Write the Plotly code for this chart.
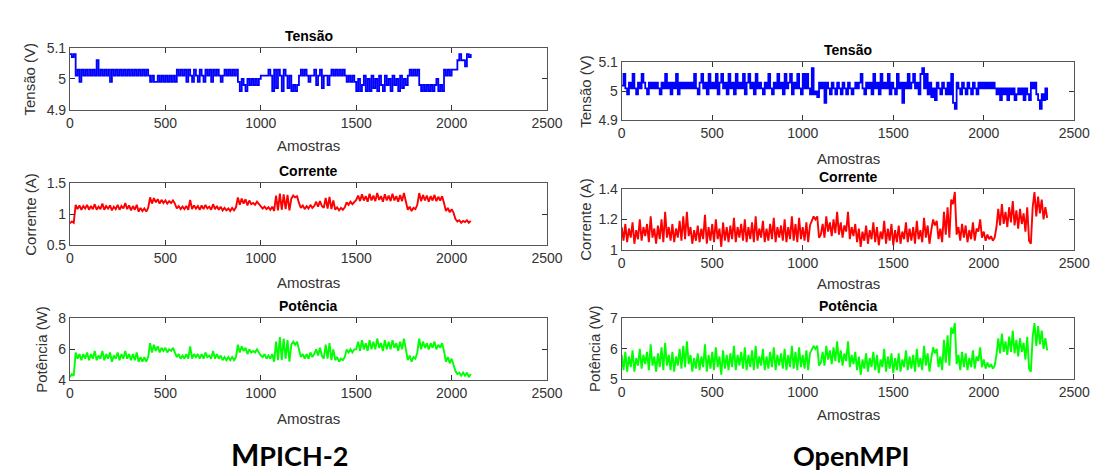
import plotly.graph_objects as go

W, H = 1099, 475

# ---------------- DATA (one value every 10 samples) ----------------
STEP = 10

mpich_tensao = [
    5.08, 5.07, 5.08, 5.01,
    5.03, 4.99, 5.03, 5.01, 5.03, 5.01, 5.03, 5.01, 5.03, 5.01, 5.06, 5.01, 5.03, 5.01, 5.03, 5.01,
    5.03, 4.99, 5.03, 5.01, 5.03, 5.01, 5.03, 5.01, 5.03, 5.01, 5.03, 5.01, 5.03, 5.01, 5.03, 5.01,
    5.03, 5.01, 5.03, 5.01, 5.03, 5.01,
    4.99, 5.01, 4.99, 4.99, 5.01, 4.99, 5.01, 4.99, 5.01, 4.99, 5.01, 4.99, 5.01, 4.99,
    5.03, 5.01, 5.03, 5.01, 5.03, 4.99, 5.03, 5.01, 4.99, 5.03, 5.01, 4.99, 5.03, 5.01, 4.99, 5.03,
    5.01, 5.03, 4.99, 5.03, 5.01, 5.03, 5.01, 4.99, 5.01, 5.03, 5.01, 5.03, 5.01, 5.03, 5.01, 5.03,
    4.99, 4.96, 5.00, 4.98, 4.96, 5.00, 4.98, 5.00, 4.98, 5.00, 4.98, 5.00, 5.01,
    5.01, 5.01, 5.01, 5.03, 5.01, 4.96, 5.03, 4.97, 5.03, 5.01, 4.96, 5.03, 5.01, 4.97, 5.01, 4.96,
    4.98, 4.96, 4.98,
    5.01, 5.03, 5.01, 5.03, 5.01, 4.99, 5.01, 5.01, 5.03, 4.98, 5.01, 5.03, 4.97, 5.01, 5.01, 4.98,
    5.01, 5.03, 5.01, 5.03, 5.01, 5.03, 5.01, 5.03, 5.01,
    4.99, 5.01, 4.99, 5.01, 4.99,
    4.96, 5.00, 4.96, 4.98, 5.01, 4.96, 5.00, 4.96, 5.01, 4.97, 5.00, 4.96, 5.01, 4.98, 4.96, 5.01,
    4.98, 5.00, 4.96, 5.01, 4.98, 5.00, 4.96, 5.01, 4.97, 5.00, 4.98,
    5.01, 5.03, 5.01, 5.03, 5.01, 5.03,
    4.98, 4.96, 4.98, 4.96, 4.98, 4.96, 4.98, 4.96, 4.98, 5.00, 4.96, 4.98, 4.96,
    5.03, 5.01, 5.03, 5.01, 5.03, 5.03, 5.03, 5.06, 5.08, 5.06, 5.06, 5.04, 5.08, 5.07, 5.08,
]

mpich_corrente = [
    0.85, 0.88, 0.86, 1.15,
    1.08, 1.14, 1.07, 1.13, 1.09, 1.15, 1.07, 1.13, 1.08, 1.16, 1.07, 1.12, 1.08, 1.17, 1.07, 1.13,
    1.09, 1.14, 1.06, 1.12, 1.08, 1.15, 1.07, 1.13, 1.09, 1.18, 1.08, 1.14, 1.06, 1.13, 1.07, 1.15,
    1.04, 1.10, 1.05, 1.09, 1.04, 1.10,
    1.27, 1.17, 1.26, 1.19, 1.24, 1.17, 1.23, 1.18, 1.22, 1.17, 1.21, 1.18, 1.22, 1.17,
    1.09, 1.13, 1.08, 1.12, 1.08, 1.13, 1.07, 1.23, 1.08, 1.14, 1.09, 1.13, 1.07, 1.14, 1.08, 1.15,
    1.09, 1.12, 1.07, 1.16, 1.08, 1.13, 1.07, 1.12, 1.06, 1.10, 1.06, 1.09, 1.05, 1.10, 1.06, 1.11,
    1.27, 1.15, 1.25, 1.17, 1.24, 1.14, 1.22, 1.16, 1.18, 1.15, 1.20, 1.16, 1.12,
    1.09, 1.12, 1.08, 1.11, 1.07, 1.12, 1.05, 1.30, 1.06, 1.33, 1.07, 1.32, 1.08, 1.31, 1.06, 1.25,
    1.30, 1.27, 1.29,
    1.18, 1.10, 1.14, 1.08, 1.13, 1.09, 1.15, 1.10, 1.13, 1.20, 1.12, 1.21, 1.13, 1.10, 1.26, 1.09,
    1.28, 1.08, 1.22, 1.07, 1.11, 1.06, 1.10, 1.07, 1.11,
    1.19, 1.15, 1.20, 1.16, 1.19,
    1.23, 1.30, 1.21, 1.32, 1.22, 1.29, 1.20, 1.33, 1.22, 1.30, 1.21, 1.34, 1.23, 1.29, 1.20, 1.32,
    1.22, 1.30, 1.21, 1.33, 1.22, 1.29, 1.20, 1.31, 1.21, 1.34, 1.22,
    1.07, 1.12, 1.05, 1.10, 1.08, 1.15,
    1.34, 1.21, 1.31, 1.22, 1.30, 1.20, 1.29, 1.22, 1.31, 1.21, 1.28, 1.22, 1.29,
    1.18, 1.05, 1.10, 1.03, 1.08, 1.02, 0.92, 0.88, 0.90, 0.86, 0.89, 0.87, 0.90, 0.86, 0.89,
]

mpich_potencia = [
    4.2, 4.4, 4.3, 5.8,
    5.4, 5.7, 5.3, 5.7, 5.4, 5.8, 5.3, 5.7, 5.4, 5.9, 5.3, 5.6, 5.4, 5.9, 5.3, 5.7,
    5.4, 5.8, 5.2, 5.6, 5.4, 5.8, 5.3, 5.7, 5.4, 5.9, 5.4, 5.7, 5.3, 5.7, 5.3, 5.8,
    5.2, 5.5, 5.2, 5.5, 5.2, 5.5,
    6.4, 5.8, 6.3, 5.9, 6.2, 5.8, 6.1, 5.9, 6.1, 5.8, 6.0, 5.9, 6.1, 5.8,
    5.5, 5.7, 5.4, 5.6, 5.4, 5.7, 5.4, 6.2, 5.4, 5.7, 5.5, 5.7, 5.4, 5.7, 5.4, 5.8,
    5.5, 5.6, 5.4, 5.9, 5.4, 5.7, 5.4, 5.6, 5.3, 5.5, 5.3, 5.5, 5.3, 5.5, 5.3, 5.5,
    6.3, 5.8, 6.2, 5.9, 6.1, 5.7, 6.0, 5.8, 5.9, 5.8, 6.0, 5.8, 5.6,
    5.5, 5.7, 5.4, 5.6, 5.4, 5.7, 5.2, 6.5, 5.3, 6.8, 5.3, 6.7, 5.4, 6.6, 5.2, 6.3,
    6.5, 6.3, 6.5,
    5.9, 5.5, 5.7, 5.4, 5.7, 5.4, 5.8, 5.5, 5.7, 6.0, 5.6, 6.1, 5.6, 5.4, 6.3, 5.4,
    6.4, 5.3, 6.0, 5.3, 5.5, 5.2, 5.4, 5.3, 5.5,
    6.0, 5.8, 6.0, 5.8, 6.0,
    6.0, 6.5, 5.9, 6.6, 6.0, 6.4, 5.9, 6.6, 6.0, 6.5, 6.0, 6.7, 6.1, 6.4, 5.9, 6.6,
    6.0, 6.5, 6.0, 6.6, 6.1, 6.4, 5.9, 6.5, 6.0, 6.7, 6.0,
    5.3, 5.6, 5.2, 5.5, 5.4, 5.8,
    6.7, 6.0, 6.5, 6.1, 6.4, 6.0, 6.4, 6.1, 6.5, 6.0, 6.3, 6.1, 6.4,
    5.9, 5.2, 5.5, 5.1, 5.4, 5.0, 4.6, 4.4, 4.5, 4.3, 4.5, 4.3, 4.5, 4.2, 4.4,
]

openmpi_tensao = [
    5.02, 5.06, 5.01, 4.99, 5.03, 5.01, 5.06, 5.01, 4.99, 5.03,
    5.01, 5.06, 5.03, 5.01, 4.99, 5.03, 5.01, 5.03, 5.01, 5.03,
    5.01, 4.99, 5.03, 5.01, 5.06, 5.01, 5.03, 4.99, 5.03, 5.01,
    5.06, 4.99, 5.03, 5.01, 5.03, 5.01, 5.03, 5.01, 5.03, 5.01,
    5.06, 5.01, 4.99, 5.03, 5.06, 5.01, 5.03, 4.99, 5.06, 5.01,
    5.03, 5.01, 5.06, 4.99, 5.03, 5.06, 5.01, 5.03, 4.99, 5.06,
    5.01, 5.03, 4.99, 5.06, 5.01, 5.03, 5.01, 5.06, 4.99, 5.03,
    5.06, 5.01, 5.03, 4.99, 5.06, 5.01, 5.03, 5.01, 4.99, 5.03,
    5.01, 5.06, 5.01, 4.99, 5.03, 5.01, 5.06, 5.01, 5.03, 4.99,
    5.06, 5.01, 5.03, 5.06, 4.99, 5.03, 5.01, 5.06, 5.01, 4.99,
    5.06, 5.01, 5.06, 5.01, 4.99, 5.08, 4.99, 5.00, 4.98, 5.03,
    5.01, 5.03, 4.96, 5.03, 5.01, 4.99, 5.03, 5.01, 4.99, 5.03,
    5.01, 4.99, 5.03, 5.01, 4.99, 5.03, 5.01, 4.99, 5.01, 5.03,
    5.01, 5.03, 5.06, 5.01, 4.99, 5.03, 5.01, 5.03, 4.99, 5.06,
    5.01, 5.03, 4.99, 5.06, 5.01, 5.03, 5.01, 5.06, 4.99, 5.03,
    5.01, 4.99, 5.06, 5.01, 5.03, 4.96, 5.03, 5.01, 5.06, 5.01,
    5.03, 5.06, 5.01, 5.03, 4.99, 5.06, 5.08, 5.01, 5.06, 4.99,
    5.03, 4.98, 5.01, 4.97, 5.03, 5.01, 4.99, 5.03, 5.01, 4.99,
    5.03, 4.99, 5.06, 4.96, 4.94, 5.03, 5.01, 4.99, 5.03, 5.01,
    4.99, 5.03, 5.01, 4.99, 5.03, 5.01, 4.99, 5.03, 5.01, 5.03,
    5.01, 5.03, 5.01, 5.03, 5.01, 5.03, 5.01, 4.99, 5.01, 4.97,
    5.01, 4.99, 5.01, 4.97, 5.01, 4.99, 5.01, 4.97, 4.99, 5.01,
    4.99, 5.01, 4.97, 5.01, 4.99, 4.97, 5.03, 5.01, 5.03, 4.99,
    4.97, 4.94, 4.99, 4.97, 5.01, 4.97,
]

openmpi_corrente = [
    1.15, 1.06, 1.17, 1.05, 1.14, 1.08, 1.18, 1.04, 1.13, 1.07,
    1.20, 1.06, 1.15, 1.09, 1.17, 1.05, 1.22, 1.08, 1.14, 1.04,
    1.16, 1.07, 1.20, 1.05, 1.25, 1.08, 1.15, 1.06, 1.17, 1.05,
    1.14, 1.08, 1.19, 1.06, 1.22, 1.07, 1.25, 1.09, 1.15, 1.04,
    1.13, 1.06, 1.16, 1.05, 1.14, 1.07, 1.23, 1.04, 1.15, 1.06,
    1.17, 1.05, 1.20, 1.07, 1.14, 1.02, 1.18, 1.06, 1.15, 1.05,
    1.16, 1.07, 1.21, 1.05, 1.15, 1.08, 1.17, 1.06, 1.20, 1.05,
    1.15, 1.07, 1.18, 1.05, 1.22, 1.06, 1.14, 1.08, 1.19, 1.05,
    1.14, 1.06, 1.17, 1.07, 1.21, 1.05, 1.15, 1.08, 1.16, 1.06,
    1.20, 1.05, 1.15, 1.07, 1.22, 1.06, 1.17, 1.05, 1.21, 1.07,
    1.15, 1.06, 1.18, 1.05, 1.16, 1.19, 1.22, 1.20, 1.22, 1.08,
    1.10, 1.17, 1.08, 1.22, 1.12, 1.18, 1.09, 1.20, 1.11, 1.25,
    1.10, 1.18, 1.08, 1.16, 1.12, 1.25, 1.07, 1.15, 1.09, 1.17,
    1.05, 1.14, 1.02, 1.12, 1.06, 1.16, 1.04, 1.13, 1.07, 1.18,
    1.05, 1.15, 1.03, 1.12, 1.07, 1.19, 1.04, 1.14, 1.06, 1.17,
    1.03, 1.13, 1.05, 1.16, 1.04, 1.12, 1.07, 1.18, 1.05, 1.14,
    1.06, 1.15, 1.04, 1.19, 1.07, 1.13, 1.05, 1.21, 1.08, 1.16,
    1.04, 1.13, 1.20, 1.16, 1.19, 1.07, 1.14, 1.05, 1.25, 1.10,
    1.28, 1.08, 1.33, 1.30, 1.38, 1.10, 1.15, 1.06, 1.17, 1.08,
    1.16, 1.05, 1.13, 1.07, 1.18, 1.06, 1.14, 1.12, 1.20, 1.08,
    1.12, 1.06, 1.10, 1.07, 1.09, 1.06, 1.08, 1.15, 1.27, 1.16,
    1.30, 1.17, 1.25, 1.15, 1.28, 1.18, 1.32, 1.16, 1.26, 1.14,
    1.27, 1.17, 1.24, 1.12, 1.28, 1.06, 1.04, 1.28, 1.38, 1.22,
    1.35, 1.24, 1.33, 1.20, 1.28, 1.21,
]

openmpi_potencia = [
    5.8, 5.3, 5.9, 5.25, 5.75, 5.4, 5.95, 5.25, 5.7, 5.45,
    6.0, 5.35, 5.8, 5.5, 5.9, 5.3, 6.15, 5.45, 5.75, 5.25,
    5.85, 5.4, 6.05, 5.3, 6.2, 5.45, 5.8, 5.3, 5.9, 5.25,
    5.75, 5.45, 6.0, 5.35, 6.1, 5.4, 6.25, 5.5, 5.8, 5.25,
    5.7, 5.35, 5.85, 5.3, 5.75, 5.4, 6.15, 5.25, 5.8, 5.35,
    5.9, 5.3, 6.05, 5.4, 5.75, 5.15, 5.95, 5.35, 5.8, 5.3,
    5.85, 5.4, 6.1, 5.3, 5.8, 5.45, 5.9, 5.35, 6.05, 5.3,
    5.8, 5.4, 5.95, 5.3, 6.1, 5.35, 5.75, 5.45, 6.0, 5.3,
    5.75, 5.35, 5.9, 5.4, 6.05, 5.3, 5.8, 5.45, 5.85, 5.35,
    6.0, 5.3, 5.8, 5.4, 6.1, 5.35, 5.9, 5.3, 6.05, 5.4,
    5.8, 5.35, 5.95, 5.3, 5.85, 6.0, 6.1, 6.0, 6.1, 5.45,
    5.55, 5.9, 5.45, 6.1, 5.65, 5.95, 5.5, 6.05, 5.6, 6.25,
    5.55, 5.95, 5.45, 5.85, 5.6, 6.25, 5.4, 5.8, 5.5, 5.9,
    5.3, 5.75, 5.15, 5.65, 5.35, 5.85, 5.25, 5.7, 5.4, 5.9,
    5.3, 5.8, 5.2, 5.65, 5.4, 6.0, 5.25, 5.75, 5.35, 5.85,
    5.2, 5.7, 5.3, 5.85, 5.25, 5.65, 5.4, 5.95, 5.3, 5.75,
    5.35, 5.8, 5.25, 6.0, 5.4, 5.7, 5.3, 6.1, 5.45, 5.85,
    5.25, 5.7, 6.05, 5.85, 6.0, 5.4, 5.75, 5.3, 6.3, 5.55,
    6.45, 5.45, 6.7, 6.5, 6.85, 5.5, 5.8, 5.3, 5.9, 5.4,
    5.85, 5.3, 5.7, 5.4, 5.95, 5.35, 5.75, 5.6, 6.05, 5.4,
    5.65, 5.35, 5.55, 5.4, 5.5, 5.35, 5.45, 5.8, 6.35, 5.85,
    6.5, 5.9, 6.25, 5.8, 6.4, 5.9, 6.6, 5.85, 6.3, 5.75,
    6.35, 5.9, 6.2, 5.65, 6.4, 5.35, 5.25, 6.4, 6.85, 6.1,
    6.75, 6.15, 6.6, 6.0, 6.35, 5.95,
]

x_ticks = [0, 500, 1000, 1500, 2000, 2500]
x_ticktext = ["0", "500", "1000", "1500", "2000", "2500"]
titles = ["Tensão", "Corrente", "Potência"]
ylabels = ["Tensão (V)", "Corrente (A)", "Potência (W)"]
y_ranges_left = [[4.9, 5.1], [0.5, 1.5], [4, 8]]
y_ticks_left = [[4.9, 5.0, 5.1], [0.5, 1.0, 1.5], [4, 6, 8]]
y_ticktext_left = [["4.9", "5", "5.1"], ["0.5", "1", "1.5"], ["4", "6", "8"]]
y_ranges_right = [[4.9, 5.1], [1.0, 1.4], [5, 7]]
y_ticks_right = [[4.9, 5.0, 5.1], [1.0, 1.2, 1.4], [5, 6, 7]]
y_ticktext_right = [["4.9", "5", "5.1"], ["1", "1.2", "1.4"], ["5", "6", "7"]]
group_labels = ["MPICH-2", "OpenMPI"]

# ---------------- LAYOUT (pixel boxes) ----------------
colors = ["#0000FF", "#FF0000", "#00FF00"]
shapes_line = ["hv", "linear", "linear"]
widths = [1.8, 1.9, 1.9]
left_x = (59, 545)
right_x = (621, 1082)
left_y = [(33, 97), (173, 237), (313, 377)]
right_y = [(48, 108), (179, 242), (313, 376)]
left_title_y = [21, 160, 300]
right_title_y = [35, 167, 300]
left_xlab_y = [134, 276, 417]
right_xlab_y = [147, 277, 412]
left_ylab_x = [18, 18, 30]
right_ylab_x = [584, 584, 594]


def px(x):
    return x / W


def py(y):
    return 1 - y / H


fig = go.Figure()
layout = dict(
    width=W, height=H, margin=dict(l=0, r=0, t=0, b=0),
    paper_bgcolor="white", plot_bgcolor="white", showlegend=False,
    font=dict(family="Liberation Sans, Arial, sans-serif", color="#333333", size=13),
)
annotations = []

series = [mpich_tensao, mpich_corrente, mpich_potencia,
          openmpi_tensao, openmpi_corrente, openmpi_potencia]

axis_common = dict(showline=True, linecolor="#555555", linewidth=1, mirror="ticks",
                   ticks="inside", ticklen=5, tickwidth=1, tickcolor="#333333",
                   showgrid=False, zeroline=False, fixedrange=True,
                   tickfont=dict(size=14, color="#333333"))

for col in range(2):
    for row in range(3):
        k = col * 3 + row + 1
        vals = series[col * 3 + row]
        xs = [i * STEP for i in range(len(vals))]
        xname = "x" if k == 1 else f"x{k}"
        yname = "y" if k == 1 else f"y{k}"
        fig.add_trace(go.Scatter(x=xs, y=vals, mode="lines", xaxis=xname, yaxis=yname,
                                 line=dict(color=colors[row], width=widths[row], shape=shapes_line[row]),
                                 hoverinfo="skip"))
        xb = left_x if col == 0 else right_x
        yb = (left_y if col == 0 else right_y)[row]
        yr = (y_ranges_left if col == 0 else y_ranges_right)[row]
        yt = (y_ticks_left if col == 0 else y_ticks_right)[row]
        ytt = (y_ticktext_left if col == 0 else y_ticktext_right)[row]
        layout["xaxis" if k == 1 else f"xaxis{k}"] = dict(
            domain=[px(xb[0]), px(xb[1])], range=[0, 2500], anchor=yname,
            tickvals=x_ticks, ticktext=x_ticktext, **axis_common)
        layout["yaxis" if k == 1 else f"yaxis{k}"] = dict(
            domain=[py(yb[1]), py(yb[0])], range=yr, anchor=xname,
            tickvals=yt, ticktext=ytt, **axis_common)
        cx = (xb[0] + xb[1]) / 2
        ty = (left_title_y if col == 0 else right_title_y)[row]
        annotations.append(dict(x=px(cx), y=py(ty), xref="paper", yref="paper",
                                text=f"<b>{titles[row]}</b>", showarrow=False,
                                xanchor="center", yanchor="middle",
                                font=dict(size=14, color="#000000")))
        ly = (left_xlab_y if col == 0 else right_xlab_y)[row]
        annotations.append(dict(x=px(cx), y=py(ly), xref="paper", yref="paper",
                                text="Amostras", showarrow=False,
                                xanchor="center", yanchor="middle",
                                font=dict(size=15, color="#333333")))
        lx = (left_ylab_x if col == 0 else right_ylab_x)[row]
        annotations.append(dict(x=px(lx), y=py((yb[0] + yb[1]) / 2), xref="paper", yref="paper",
                                text=ylabels[row], showarrow=False, textangle=-90,
                                xanchor="center", yanchor="middle",
                                font=dict(size=15, color="#333333")))

for gx, lab in zip([283, 855], group_labels):
    txt = f"<span style='font-size:30px'>{lab[0]}</span>{lab[1:]}" if lab == "MPICH-2" else lab
    annotations.append(dict(x=px(gx), y=py(473), xref="paper", yref="paper",
                            text=f"<b>{txt}</b>", showarrow=False, borderpad=0,
                            xanchor="center", yanchor="bottom",
                            font=dict(size=27, color="#000000", family="Lato, Open Sans, sans-serif")))

layout["annotations"] = annotations
fig.update_layout(**layout)
fig.write_html("out.html")
